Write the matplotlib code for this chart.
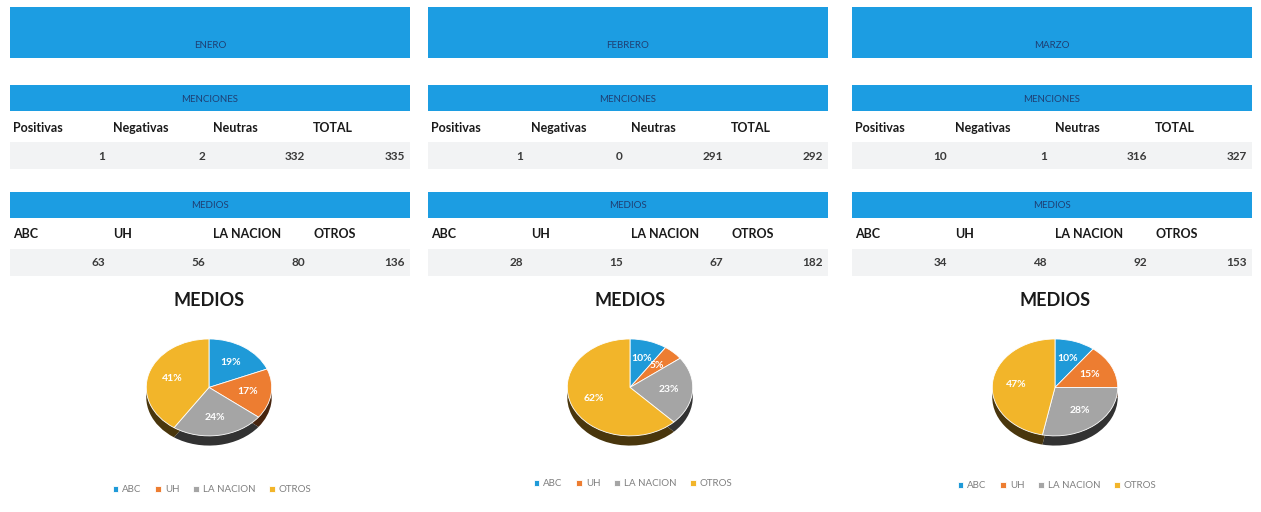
import matplotlib
matplotlib.use("Agg")
import numpy as np
from matplotlib import pyplot as plt
from matplotlib.patches import Rectangle
from matplotlib.colors import to_rgb

plt.rcParams['font.family'] = ['Lato', 'DejaVu Sans']

# data
months = ["ENERO", "FEBRERO", "MARZO"]
mention_labels = ["Positivas", "Negativas", "Neutras", "TOTAL"]
positivas = [1, 1, 10]
negativas = [2, 0, 1]
neutras = [332, 291, 316]
total = [335, 292, 327]

medio_labels = ["ABC", "UH", "LA NACION", "OTROS"]
abc = [63, 28, 34]
uh = [56, 15, 48]
la_nacion = [80, 67, 92]
otros = [136, 182, 153]

pie_colors = ["#1f9ad8", "#ed7d31", "#a5a5a5", "#f2b52a"]
BAR_BLUE = "#1c9de2"
BAND_GRAY = "#f2f3f4"

W, H = 1261, 512
fig = plt.figure(figsize=(W / 100, H / 100), dpi=100)
lay = fig.add_axes([0, 0, 1, 1])
lay.set_xlim(0, W)
lay.set_ylim(H, 0)
lay.axis("off")

panel_x = [10, 428, 852]
panel_w = 400
pie_cx = [209, 630, 1055]
legend_cx = [212, 633, 1057]
legend_y = [490, 484, 486]

mentions = list(zip(positivas, negativas, neutras, total))
medios = list(zip(abc, uh, la_nacion, otros))


def bar(x0, y0, h, text, ty, size, color):
    lay.add_patch(Rectangle((x0, y0), panel_w, h, color=BAR_BLUE, lw=0))
    lay.text(x0 + panel_w / 2, ty, text, ha="center", va="center",
             fontsize=size, color=color)


for i, x0 in enumerate(panel_x):
    bar(x0, 7, 51, months[i], 46, 7, "#1f3f73")
    bar(x0, 85, 26, "MENCIONES", 99, 7, "#1f3f73")
    bar(x0, 192, 26, "MEDIOS", 206, 7, "#1f3f73")

    # value bands
    lay.add_patch(Rectangle((x0, 142), panel_w, 27, color=BAND_GRAY, lw=0))
    lay.add_patch(Rectangle((x0, 249), panel_w, 27, color=BAND_GRAY, lw=0))

    for j in range(4):
        lay.text(x0 + 100 * j + 3, 128, mention_labels[j], ha="left", va="center",
                 fontsize=9, fontweight="bold", color="#1a1a1a")
        lay.text(x0 + 100 * (j + 1) - 5, 156, str(mentions[i][j]), ha="right",
                 va="center", fontsize=8.5, fontweight="bold", color="#3a3a3a")
        lay.text(x0 + 100 * j + 3, 234, medio_labels[j], ha="left", va="center",
                 fontsize=9, fontweight="bold", color="#1a1a1a")
        lay.text(x0 + 100 * (j + 1) - 5, 262, str(medios[i][j]), ha="right",
                 va="center", fontsize=8.5, fontweight="bold", color="#3a3a3a")

    lay.text(pie_cx[i], 300, "MEDIOS", ha="center", va="center",
             fontsize=13, fontweight="bold", color="#1a1a1a")

    # pseudo 3d pie: darker copy shifted down, then the pie itself
    pw, ph = 128, 110
    pax = fig.add_axes([(pie_cx[i] - pw / 2) / W, 1 - (338 + ph) / H, pw / W, ph / H])
    dark = [tuple(c * 0.3 for c in to_rgb(col)) for col in pie_colors]
    pax.pie(medios[i], colors=dark, startangle=90, counterclock=False,
            center=(0, -0.2), wedgeprops=dict(lw=0))
    wedges, _, autotexts = pax.pie(
        medios[i], colors=pie_colors, startangle=90, counterclock=False,
        autopct="%1.0f%%", pctdistance=0.62,
        wedgeprops=dict(lw=0.6, edgecolor="white"),
        textprops=dict(color="white", fontsize=7.5, fontweight="bold"))
    pax.set_aspect("auto")
    pax.set_xlim(-1.02, 1.02)
    pax.set_ylim(-1.25, 1.02)

    pax.legend(wedges, medio_labels, loc="center", ncol=4, frameon=False,
               bbox_to_anchor=(legend_cx[i], legend_y[i]),
               bbox_transform=lay.transData, fontsize=7, labelcolor="#7f7f7f",
               handlelength=0.6, handleheight=0.6, handletextpad=0.4,
               columnspacing=1.4)

fig.savefig("out.png", dpi=100)
